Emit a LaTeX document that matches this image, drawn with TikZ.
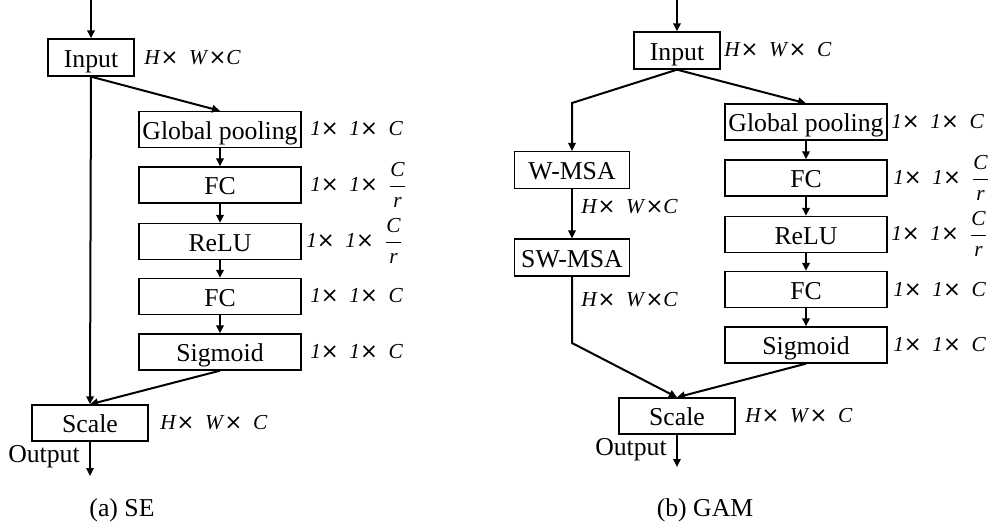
\documentclass[tikz,border=0pt]{standalone}
\usepackage{fontspec}
\setmainfont{Liberation Serif}
\newfontfamily\symfont{DejaVu Sans}
\usetikzlibrary{arrows.meta}
\newcommand{\X}{{\symfont ×}}
\newcommand{\gap}{\hspace{0.5em}}
\newcommand{\Cover}{\ensuremath{\displaystyle\frac{\mathit{C}}{\mathit{r}}}}
\newcommand{\HWC}{\textit{H}\X\gap\textit{W}\X\textit{C}}
\newcommand{\HWsC}{\textit{H}\X\gap\textit{W}\X\gap\textit{C}}
\newcommand{\OOC}{\textit{1}\X\gap\textit{1}\X\gap\textit{C}}
\newcommand{\OOCr}{\textit{1}\X\gap\textit{1}\X\gap\Cover}
\begin{document}
\begin{tikzpicture}[x=0.75pt,y=-0.75pt,
 box/.style={draw, line width=1pt, inner sep=0pt, text height=17.4pt, text depth=2.7pt, font=\fontsize{19.3}{22}\selectfont},
 colbox/.style={box, minimum width=121.5pt, minimum height=27pt},
 inbox/.style={box, minimum width=64.5pt, minimum height=27.75pt},
 scbox/.style={box, minimum width=87pt, minimum height=27pt},
 msabox/.style={box, minimum width=86pt, minimum height=27.5pt},
 dim/.style={anchor=west, inner sep=0pt, font=\fontsize{16}{19}\selectfont},
 txt/.style={inner sep=0pt, font=\fontsize{19.3}{22}\selectfont},
 arr/.style={line width=1.5pt, -{Triangle[length=6pt,width=5.5pt]}}]
\useasboundingbox (0,0) rectangle (995,527);

% ---------- (a) SE ----------
\coordinate (topA) at (91,0);
\node[inbox] (inA) at (91,57.5) {Input};
\node[colbox] (gpA) at (220,129.5) {Global pooling};
\node[colbox] (fc1A) at (220,185) {FC};
\node[colbox] (reluA) at (220,241.5) {ReLU};
\node[colbox] (fc2A) at (220,296.5) {FC};
\node[colbox] (sigA) at (220,352) {Sigmoid};
\node[scbox] (scA) at (90,423) {Scale};
\coordinate (outA) at (90,476);

\node[dim] (lInA) at (144,58) {\HWC};
\node[dim] (lGpA) at (310,129) {\OOC};
\node[dim] (lFc1A) at (310,185) {\OOCr};
\node[dim] (lReluA) at (306,241) {\OOCr};
\node[dim] (lFc2A) at (310,296) {\OOC};
\node[dim] (lSigA) at (310,352) {\OOC};
\node[dim] (lScA) at (160,423) {\HWsC};
\node[txt, anchor=east] (oA) at (80,457) {Output};
\node[txt] (capA) at (122,510) {(a) SE};

\draw[arr] (topA) -- (inA.north);
\draw[arr] (inA.south) -- (scA.north);
\draw[arr] (inA.south) -- (gpA.north);
\draw[arr] (gpA.south) -- (fc1A.north);
\draw[arr] (fc1A.south) -- (reluA.north);
\draw[arr] (reluA.south) -- (fc2A.north);
\draw[arr] (fc2A.south) -- (sigA.north);
\draw[arr] (sigA.south) -- (scA.north);
\draw[arr] (scA.south) -- (outA);

% ---------- (b) GAM ----------
\coordinate (topB) at (677,0);
\node[inbox] (inB) at (677,50.5) {Input};
\node[msabox] (wmsa) at (572,170) {W-MSA};
\node[msabox] (swmsa) at (572,257.5) {SW-MSA};
\node[colbox] (gpB) at (806,122) {Global pooling};
\node[colbox] (fc1B) at (806,178) {FC};
\node[colbox] (reluB) at (806,234.5) {ReLU};
\node[colbox] (fc2B) at (806,289.5) {FC};
\node[colbox] (sigB) at (806,345) {Sigmoid};
\node[scbox] (scB) at (677,416) {Scale};
\coordinate (bendB) at (572,103);
\coordinate (bendC) at (572,343);
\coordinate (outB) at (677,467);

\node[dim] (lInB) at (724,50) {\HWsC};
\node[dim] (lW) at (581,207) {\HWC};
\node[dim] (lSW) at (581,300) {\HWC};
\node[dim] (lGpB) at (891,122) {\OOC};
\node[dim] (lFc1B) at (893,178) {\OOCr};
\node[dim] (lReluB) at (891,234) {\OOCr};
\node[dim] (lFc2B) at (893,290) {\OOC};
\node[dim] (lSigB) at (893,345) {\OOC};
\node[dim] (lScB) at (745,416) {\HWsC};
\node[txt, anchor=east] (oB) at (667,450) {Output};
\node[txt] (capB) at (705,510) {(b) GAM};

\draw[arr] (topB) -- (inB.north);
\draw[arr, line join=miter] (inB.south) -- (bendB) -- (wmsa.north);
\draw[arr] (inB.south) -- (gpB.north);
\draw[arr] (wmsa.south) -- (swmsa.north);
\draw[arr, line join=miter] (swmsa.south) -- (bendC) -- (scB.north);
\draw[arr] (gpB.south) -- (fc1B.north);
\draw[arr] (fc1B.south) -- (reluB.north);
\draw[arr] (reluB.south) -- (fc2B.north);
\draw[arr] (fc2B.south) -- (sigB.north);
\draw[arr] (sigB.south) -- (scB.north);
\draw[arr] (scB.south) -- (outB);
\end{tikzpicture}
\end{document}
